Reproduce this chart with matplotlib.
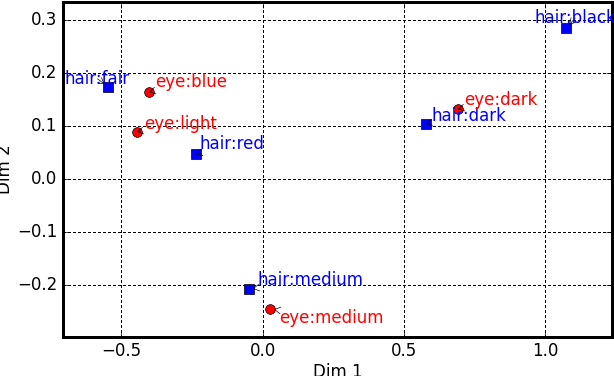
import matplotlib
matplotlib.use("Agg")
import matplotlib.pyplot as plt

# Correspondence analysis coordinates
hair_labels = ["hair:fair", "hair:red", "hair:medium", "hair:dark", "hair:black"]
hair_x = [-0.548, -0.237, -0.050, 0.577, 1.075]
hair_y = [0.174, 0.047, -0.208, 0.104, 0.285]

eye_labels = ["eye:blue", "eye:light", "eye:medium", "eye:dark"]
eye_x = [-0.403, -0.446, 0.025, 0.690]
eye_y = [0.164, 0.089, -0.245, 0.132]

# label offsets in pixels (text left edge, relative to point)
hair_offsets = [(-43, 8), (4, 10), (9, 9), (6, 8), (-32, 10)]
eye_offsets = [(6, 10), (7, 8), (9, -9), (6, 9)]

plt.style.use("classic")
plt.rcParams["lines.antialiased"] = False
plt.rcParams["patch.antialiased"] = False

fig = plt.figure(figsize=(6.14, 3.76), dpi=100, facecolor="white")
ax = fig.add_axes([0.1026, 0.104, 0.894, 0.8907])

ax.plot(hair_x, hair_y, "s", color="blue", markeredgecolor="k", markersize=7, zorder=3)
ax.plot(eye_x, eye_y, "o", color="red", markeredgecolor="k", markersize=7, zorder=3)

def label_points(xs, ys, labels, offsets, color):
    for x, y, lab, off in zip(xs, ys, labels, offsets):
        ax.annotate(lab, xy=(x, y), xytext=off, textcoords="offset pixels",
                    color=color, fontsize=12, ha="left", va="center",
                    arrowprops=dict(arrowstyle="->,head_length=0.35,head_width=0.2",
                                    color="k", lw=0.5, antialiased=True,
                                    shrinkA=0, shrinkB=3))

label_points(hair_x, hair_y, hair_labels, hair_offsets, "blue")
label_points(eye_x, eye_y, eye_labels, eye_offsets, "red")

ax.set_xlim(-0.707, 1.236)
ax.set_ylim(-0.298, 0.334)
ax.set_xticks([-0.5, 0.0, 0.5, 1.0])
ax.set_yticks([-0.2, -0.1, 0.0, 0.1, 0.2, 0.3])
ax.grid(True, color="k", linestyle=(0, (1.5, 2)), linewidth=0.8)
for sp in ax.spines.values():
    sp.set_linewidth(2)
ax.tick_params(direction="in", length=4)
ax.set_xlabel("Dim 1", labelpad=2)
ax.set_ylabel("Dim 2", labelpad=2)

fig.savefig("out.png", dpi=100, facecolor="white")
